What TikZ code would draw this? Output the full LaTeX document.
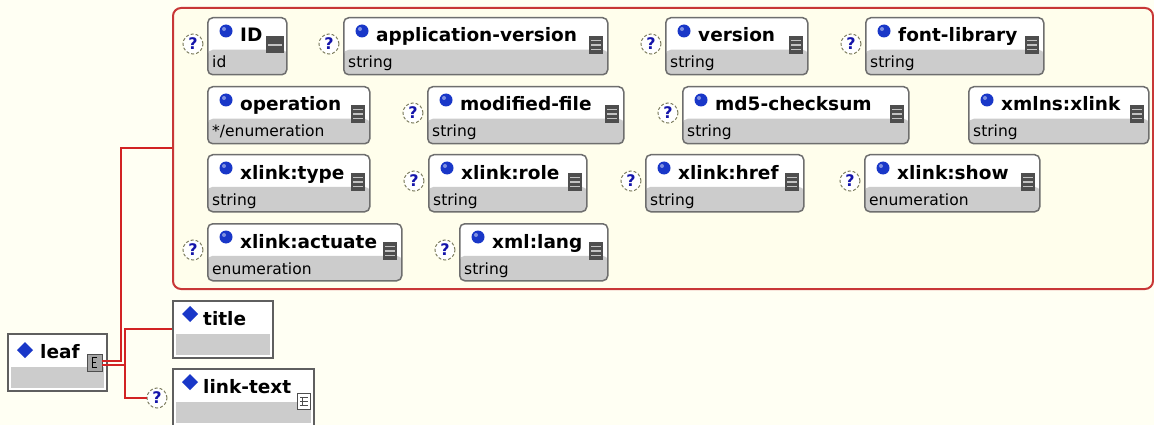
\documentclass[tikz,border=0pt]{standalone}
\usepackage{fontspec}
\setmainfont{DejaVu Sans}
\usetikzlibrary{calc}
\definecolor{bgcream}{RGB}{255,255,243}
\definecolor{grpfill}{RGB}{255,254,236}
\definecolor{grpred}{RGB}{200,55,55}
\definecolor{lnred}{RGB}{210,35,35}
\definecolor{boxborder}{RGB}{110,110,110}
\definecolor{elborder}{RGB}{95,95,95}
\definecolor{boxgray}{RGB}{204,204,204}
\definecolor{bulletblue}{RGB}{25,55,200}
\definecolor{qblue}{RGB}{20,20,170}
\definecolor{qborder}{RGB}{125,125,95}
\definecolor{icondark}{RGB}{78,78,78}
\definecolor{iconlight}{RGB}{195,195,195}
\definecolor{iconmid}{RGB}{165,165,165}
\tikzset{
  groupbox/.style={draw=grpred, line width=2pt, fill=grpfill, rounded corners=8pt,
    anchor=north west, inner sep=0pt},
  attrbox/.style={draw=boxborder, line width=1.5pt, rounded corners=5pt, fill=white,
    inner sep=0pt, minimum height=57pt, anchor=north west,
    path picture={\fill[boxgray] (path picture bounding box.south west) rectangle
      ([yshift=25pt]path picture bounding box.south east);}},
  elembox/.style={draw=elborder, line width=1.6pt, fill=white, inner sep=0pt,
    minimum height=57pt, anchor=north west,
    path picture={\fill[boxgray] ([xshift=3pt,yshift=3pt]path picture bounding box.south west) rectangle
      ([xshift=-3pt,yshift=24pt]path picture bounding box.south east);}},
  lbl/.style={anchor=base west, inner sep=0pt, font=\fontsize{18.5}{18.5}\selectfont\bfseries},
  subl/.style={anchor=base west, inner sep=0pt, font=\fontsize{15.5}{15.5}\selectfont},
  qmark/.style={circle, draw=qborder, densely dashed, line width=1pt, fill=white,
    minimum size=20pt, inner sep=0pt, text=qblue, font=\fontsize{16}{16}\selectfont\bfseries},
  conn/.style={draw=lnred, line width=2pt},
  smallicon/.style={draw=icondark, line width=0.8pt, inner sep=0pt, minimum width=14pt, minimum height=17pt}
}
% #1 name, #2 left, #3 right, #4 top, #5 label, #6 sub, #7 question (1/0), #8 icon (0 list, 1 id)
\newcommand\attrnode[8]{%
  \pgfmathsetmacro\aw{#3-#2}%
  \node[attrbox, minimum width=\aw pt] (#1) at (#2,#4) {};
  \fill[bulletblue] ({#2+19},{#4+14}) circle (6.5pt);
  \fill[white, opacity=0.45] ({#2+17},{#4+12}) circle (2pt);
  \node[lbl] (#1-l) at ({#2+33},{#4+25}) {#5};
  \node[subl] (#1-s) at ({#2+5},{#4+51}) {#6};
  \ifnum#8=0
    \fill[icondark] ({#3-18},{#4+19}) rectangle ({#3-4},{#4+37});
    \foreach \k in {23.5,28,32.5} \draw[iconlight, line width=1.3pt] ({#3-16},{#4+\k}) -- ({#3-6},{#4+\k});
  \else
    \fill[icondark] ({#3-20},{#4+19}) rectangle ({#3-2},{#4+36});
    \draw[iconlight, line width=2.5pt] ({#3-18},{#4+28}) -- ({#3-4},{#4+28});
  \fi
  \ifnum#7=1 \node[qmark] (#1-q) at ({#2-14},{#4+27}) {?};\fi
}
\begin{document}
\begin{tikzpicture}[x=1pt,y=-1pt]
\useasboundingbox (0,0) rectangle (1154,425);
\fill[bgcream] (0,0) rectangle (1154,425);
\node[groupbox, minimum width=980pt, minimum height=281pt] (attrs) at (172,7) {};
% row 1
\attrnode{id}{207}{286}{17}{ID}{id}{1}{1}
\attrnode{appver}{343}{607}{17}{application-version}{string}{1}{0}
\attrnode{version}{665}{807}{17}{version}{string}{1}{0}
\attrnode{fontlib}{865}{1043}{17}{font-library}{string}{1}{0}
% row 2
\attrnode{operation}{207}{369}{86}{operation}{*/enumeration}{0}{0}
\attrnode{modfile}{427}{623}{86}{modified-file}{string}{1}{0}
\attrnode{md5}{682}{908}{86}{md5-checksum}{string}{1}{0}
\attrnode{xmlns}{968}{1148}{86}{xmlns:xlink}{string}{0}{0}
% row 3
\attrnode{xtype}{207}{369}{154}{xlink:type}{string}{0}{0}
\attrnode{xrole}{428}{586}{154}{xlink:role}{string}{1}{0}
\attrnode{xhref}{645}{803}{154}{xlink:href}{string}{1}{0}
\attrnode{xshow}{864}{1039}{154}{xlink:show}{enumeration}{1}{0}
% row 4
\attrnode{xact}{207}{401}{223}{xlink:actuate}{enumeration}{1}{0}
\attrnode{xlang}{459}{607}{223}{xml:lang}{string}{1}{0}
% elements
\node[elembox, minimum width=99pt] (leaf) at (7,333) {};
\fill[bulletblue] (25,342) -- (33,350) -- (25,358) -- (17,350) -- cycle;
\node[lbl] (leaf-l) at (40,358) {leaf};
\node[smallicon, fill=iconmid, minimum width=15pt] (leafic) at (94.5,362.5) {};
\draw[black, line width=0.7pt] (97,357.5) -- (92,357.5) -- (92,367) -- (97,367) (92,362) -- (96,362);
\node[elembox, minimum width=100pt] (title) at (172,300) {};
\fill[bulletblue] (190,306) -- (198,314) -- (190,322) -- (182,314) -- cycle;
\node[lbl] (title-l) at (203,325) {title};
\node[elembox, minimum width=141pt] (linktext) at (172,368) {};
\fill[bulletblue] (190,374) -- (198,382) -- (190,390) -- (182,382) -- cycle;
\node[lbl] (linktext-l) at (203,393) {link-text};
\node[smallicon, fill=white, minimum width=13pt, minimum height=16pt] (linkic) at (304,401) {};
\draw[icondark, line width=0.8pt] (300,397) -- (308,397) (300,401) -- (308,401) (300,405) -- (308,405) (302,397) -- (302,405);
\node[qmark] (qlink) at (157,398) {?};
% connectors
\coordinate (j3) at (125,398);
\draw[conn] ([yshift=2pt]leafic.east) -| ([xshift=-51pt]attrs.west) -- (attrs.west);
\draw[conn] (title.west) -| (j3) -- (qlink.west);
\draw[conn] ([yshift=-2pt]leafic.east) -- ([yshift=-2pt]leafic.east -| j3);
\end{tikzpicture}
\end{document}
